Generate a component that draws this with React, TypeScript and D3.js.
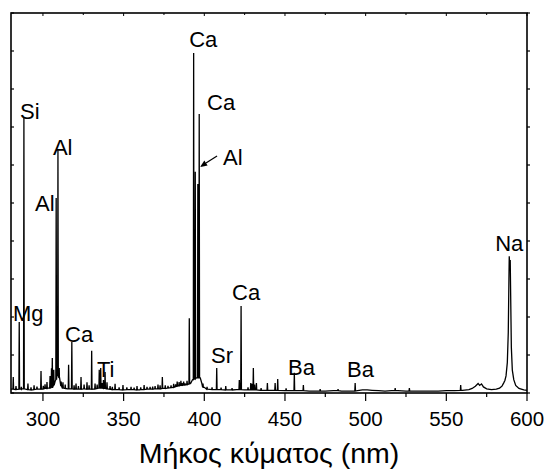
import React from "react";
import * as d3 from "d3";

// Continuous background / broad features: [wavelength nm, intensity a.u.]
const continuum: [number, number][] = [
  [280.2, 1.0], [283, 0.9], [287, 1.1], [292, 0.8], [296, 1.0], [300, 1.1], [303, 1.3],
  [306, 1.5], [307.5, 3.0], [308.7, 5.0], [310.2, 4.0], [311, 2.0], [312, 1.3],
  [315, 1.1], [320, 1.0], [325, 1.1], [330, 1.0], [335, 1.3], [340, 1.1], [345, 0.9],
  [350, 0.8], [355, 0.9], [360, 0.8], [365, 1.0], [370, 1.1], [375, 1.2], [380, 1.4],
  [383, 1.8], [386, 2.0], [389, 2.2], [391.5, 2.5], [392.7, 3.5], [395, 4.0], [397.5, 4.0],
  [398.5, 2.5], [400, 1.5], [402, 1.0], [405, 0.9], [410, 0.9], [415, 0.8], [420, 0.9],
  [425, 0.8], [430, 0.8], [435, 0.7], [440, 0.7], [445, 0.7], [450, 0.6], [455, 0.6],
  [460, 0.6], [465, 0.5], [470, 0.5], [475, 0.5], [480, 0.6], [485, 0.5], [490, 0.5],
  [495, 0.6], [498, 0.8], [501, 0.8], [504, 0.7], [508, 0.6], [512, 0.5], [516, 0.6],
  [520, 0.6], [525, 0.5], [530, 0.5], [535, 0.5], [540, 0.5], [545, 0.5], [550, 0.6],
  [555, 0.6], [560, 0.7], [564, 0.9], [566, 1.2], [568, 1.8], [569.7, 2.5], [570.7, 2.0],
  [571.8, 2.4], [573, 1.6], [575, 1.1], [578, 0.9], [581, 1.0], [583, 1.3], [584.5, 1.8],
  [585.5, 2.6], [586.3, 3.3], [587, 4.5], [587.8, 8], [588.4, 16], [588.8, 30], [589.0, 36],
  [589.3, 33], [589.6, 35], [589.9, 25], [590.3, 12], [590.9, 6], [591.8, 3.5], [593, 2.0],
  [595, 1.2], [598, 0.8], [600, 0.7],
];

// Sharp emission lines: [wavelength nm, foot intensity, peak intensity]
const emissionLines: [number, number, number][] = [
  [281.6, 1.0, 4.2], [283.3, 0.9, 1.8], [285.3, 1.0, 18.7], [286.6, 1.0, 1.6],
  [288.2, 1.1, 72.4], [290.7, 0.9, 2.5], [292.6, 0.8, 1.5], [294.5, 0.9, 2.0],
  [296.3, 1.0, 1.7], [298.8, 1.0, 5.8], [300.2, 1.1, 1.9], [301.3, 1.2, 2.3],
  [302.5, 1.2, 2.9], [304.4, 1.3, 4.5], [305.3, 1.4, 6.5], [305.8, 1.5, 9.2],
  [306.7, 2.0, 6.1], [308.2, 3.5, 51.3], [309.3, 4.5, 63.9], [310.1, 4.0, 6.6],
  [311.3, 1.8, 3.0], [312.4, 1.3, 2.8], [313.8, 1.2, 2.2], [315.9, 1.1, 7.4],
  [317.9, 1.1, 13.4], [319.3, 1.0, 2.0], [320.5, 1.0, 2.5], [322.0, 1.0, 1.8],
  [323.6, 1.0, 4.2], [325.5, 1.1, 2.2], [327.3, 1.0, 2.8], [328.6, 1.0, 2.0],
  [330.2, 1.0, 11.1], [332.3, 1.1, 2.5], [333.6, 1.2, 2.2], [334.9, 1.3, 6.1],
  [335.8, 1.3, 6.6], [336.7, 1.3, 2.6], [337.5, 1.2, 3.4], [338.5, 1.2, 5.5],
  [339.7, 1.1, 2.8], [341.6, 1.0, 1.8], [343.0, 0.9, 1.6], [344.7, 0.9, 2.4],
  [347.2, 0.9, 1.5], [349.6, 0.8, 2.1], [352.0, 0.9, 1.5], [354.6, 0.9, 1.6],
  [356.5, 0.9, 1.4], [358.3, 0.8, 1.8], [360.6, 0.9, 1.5], [362.7, 0.9, 2.1],
  [364.5, 1.0, 1.6], [366.4, 1.0, 1.6], [368.0, 1.0, 1.7], [369.5, 1.1, 1.8],
  [371.3, 1.1, 2.2], [372.6, 1.1, 2.0], [374.0, 1.2, 4.2], [375.8, 1.2, 2.0],
  [377.5, 1.3, 1.9], [379.4, 1.4, 2.0], [381.0, 1.5, 2.4], [382.2, 1.7, 2.3],
  [383.2, 1.8, 3.0], [384.4, 1.9, 2.9], [385.5, 2.0, 3.2], [386.2, 2.0, 2.6],
  [387.2, 2.1, 3.0], [388.1, 2.1, 2.5], [389.3, 2.2, 3.2], [390.7, 2.4, 19.7],
  [393.4, 3.6, 89.5], [394.4, 3.8, 58.2], [396.0, 4.0, 55.0], [396.85, 4.0, 73.4],
  [399.2, 1.5, 2.5], [401.7, 1.0, 1.6], [404.8, 0.9, 1.5], [407.7, 0.9, 6.6],
  [410.4, 0.9, 1.4], [413.3, 0.8, 1.8], [417.2, 0.8, 1.3], [421.7, 0.9, 3.4],
  [422.8, 0.9, 22.9], [427.1, 0.8, 1.5], [428.8, 0.8, 2.6], [429.6, 0.8, 2.4],
  [430.4, 0.8, 6.6], [431.2, 0.8, 2.2], [432.3, 0.8, 2.6], [435.2, 0.7, 1.3],
  [439.1, 0.7, 2.6], [443.9, 0.7, 2.6], [445.5, 0.7, 3.7], [450.7, 0.6, 1.2],
  [455.8, 0.6, 5.3], [461.4, 0.6, 2.1], [471.8, 0.5, 1.0], [482.9, 0.6, 1.0],
  [493.5, 0.5, 2.6], [518.3, 0.6, 1.3], [527.1, 0.5, 1.3], [558.9, 0.7, 2.1],
];

// Element labels: [text, left wavelength, baseline intensity]
const elementLabels: [string, number, number][] = [
  ["Ca", 390.6, 91.1], ["Ca", 401.7, 74.5], ["Al", 411.6, 60.0], ["Si", 285.8, 72.1],
  ["Al", 306.2, 62.6], ["Al", 295.1, 47.9], ["Mg", 281.4, 18.9], ["Ca", 313.7, 13.4],
  ["Ti", 333.5, 4.2], ["Sr", 404.2, 7.9], ["Ca", 417.2, 24.5], ["Ba", 451.9, 4.7],
  ["Ba", 488.5, 4.2], ["Na", 580.3, 37.4],
];

// Arrow pointing at the Al line: [from wl, from I, to wl, to I]
const alArrow = [407.9, 62.4, 397.4, 59.5];

const xMajorTicks = [300, 350, 400, 450, 500, 550, 600];
const xMinorTicks = [325, 375, 425, 475, 525, 575];
const yTicks = [0, 10, 20, 30, 40, 50, 60, 70, 80, 90, 100];

const W = 546;
const H = 473;
const L = 11, R = 527, T = 13, B = 393;

export default function App() {
  const x = d3.scaleLinear().domain([280.2, 600]).range([L, R]);
  const y = d3.scaleLinear().domain([0, 100]).range([B, T]);

  const pts: [number, number][] = [...continuum];
  emissionLines.forEach(([wl, foot, top]) => {
    pts.push([wl - 0.22, foot], [wl, top], [wl + 0.22, foot]);
  });
  pts.sort((a, b) => a[0] - b[0]);

  const line = d3
    .line<[number, number]>()
    .x((d) => x(d[0]))
    .y((d) => y(d[1]));

  const font = "Arial, 'Liberation Sans', sans-serif";

  const [ax1, ay1, ax2, ay2] = alArrow;
  const x1 = x(ax1), y1 = y(ay1), x2 = x(ax2), y2 = y(ay2);
  const ang = Math.atan2(y2 - y1, x2 - x1);
  const hl = 7, hw = 3;
  const hx = x2 - hl * Math.cos(ang), hy = y2 - hl * Math.sin(ang);
  const head = `M${x2},${y2} L${hx + hw * Math.sin(ang)},${hy - hw * Math.cos(ang)} L${hx - hw * Math.sin(ang)},${hy + hw * Math.cos(ang)} Z`;

  return (
    <svg
      width={W}
      height={H}
      style={{ position: "absolute", left: 0, top: 0, background: "#fff" }}
      fontFamily={font}
    >
      <rect x={0} y={0} width={W} height={H} fill="#fff" />
      <path d={line(pts) || ""} fill="none" stroke="#000" strokeWidth={1.3} strokeLinejoin="miter" />

      {/* frame */}
      <rect x={L} y={T} width={R - L} height={B - T} fill="none" stroke="#000" strokeWidth={1.6} />

      {/* bottom axis ticks */}
      {xMajorTicks.map((t) => (
        <g key={"M" + t}>
          <line x1={x(t)} x2={x(t)} y1={B} y2={B + 8} stroke="#000" strokeWidth={1.2} />
          <line x1={x(t)} x2={x(t)} y1={T} y2={T + 3} stroke="#000" strokeWidth={1} />
          <text x={x(t)} y={426} fontSize={20.5} textAnchor="middle" fill="#000">
            {t}
          </text>
        </g>
      ))}
      {xMinorTicks.map((t) => (
        <g key={"m" + t}>
          <line x1={x(t)} x2={x(t)} y1={B} y2={B + 4} stroke="#000" strokeWidth={1.2} />
          <line x1={x(t)} x2={x(t)} y1={T} y2={T + 2} stroke="#000" strokeWidth={1} />
        </g>
      ))}
      {yTicks.map((t) => (
        <g key={"y" + t}>
          <line x1={L} x2={L + 3} y1={y(t)} y2={y(t)} stroke="#000" strokeWidth={1.2} />
          <line x1={R} x2={R + 3} y1={y(t)} y2={y(t)} stroke="#000" strokeWidth={1.2} />
        </g>
      ))}

      {/* element labels */}
      {elementLabels.map(([txt, wl, iv], i) => (
        <text key={"l" + i} x={x(wl)} y={y(iv)} fontSize={22} fill="#000">
          {txt}
        </text>
      ))}
      <line x1={x1} y1={y1} x2={hx} y2={hy} stroke="#000" strokeWidth={1.2} />
      <path d={head} fill="#000" />

      <text x={(L + R) / 2} y={463} fontSize={28.5} textAnchor="middle" fill="#000">
        Μήκος κύματος (nm)
      </text>
    </svg>
  );
}
